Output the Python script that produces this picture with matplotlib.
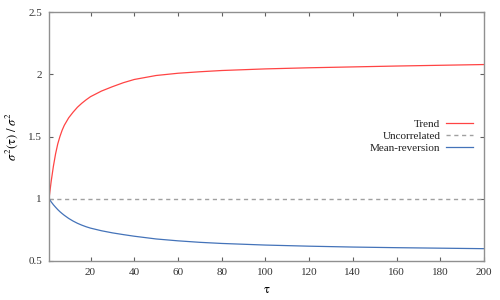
import matplotlib
matplotlib.use("Agg")
import matplotlib.pyplot as plt

plt.rcParams['font.family'] = ['Liberation Serif', 'DejaVu Serif']
plt.rcParams['mathtext.fontset'] = 'stix'

tau = [1, 2, 3, 4, 5, 6, 7, 8, 10, 12, 14, 16, 18, 20, 25, 30, 35, 40, 50,
       60, 70, 80, 100, 120, 140, 160, 180, 200]
trend = [1.00, 1.14, 1.26, 1.36, 1.44, 1.50, 1.55, 1.59, 1.65, 1.695, 1.735,
         1.767, 1.795, 1.82, 1.865, 1.90, 1.932, 1.958, 1.99, 2.008, 2.02,
         2.03, 2.043, 2.052, 2.059, 2.066, 2.072, 2.078]
uncorrelated = [1.0] * len(tau)
mean_reversion = [1.00, 0.975, 0.952, 0.932, 0.913, 0.896, 0.881, 0.867,
                  0.842, 0.821, 0.803, 0.788, 0.775, 0.764, 0.743, 0.726,
                  0.712, 0.699, 0.677, 0.662, 0.65, 0.641, 0.628, 0.619,
                  0.612, 0.607, 0.603, 0.599]

xticks = [20, 40, 60, 80, 100, 120, 140, 160, 180, 200]
xticklabels = ['20', '40', '60', '80', '100', '120', '140', '160', '180', '200']
yticks = [0.5, 1.0, 1.5, 2.0, 2.5]
yticklabels = ['0.5', '1', '1.5', '2', '2.5']

fig = plt.figure(figsize=(5, 3), dpi=100)
ax = fig.add_axes([0.098, 0.13, 0.870, 0.830])

ax.plot(tau, trend, color='#ff4444', lw=0.9, label='Trend')
ax.plot(tau, uncorrelated, color='#a0a0a0', lw=1.0, dashes=(3, 2.6),
        label='Uncorrelated')
ax.plot(tau, mean_reversion, color='#4473b9', lw=0.9, label='Mean-reversion')

ax.set_xlim(1, 200)
ax.set_ylim(0.5, 2.5)
ax.set_xticks(xticks)
ax.set_xticklabels(xticklabels)
ax.set_yticks(yticks)
ax.set_yticklabels(yticklabels)

for s in ax.spines.values():
    s.set_color('#909090')
    s.set_linewidth(1.0)

ax.tick_params(direction='in', length=3, width=0.8, color='#606060',
               top=True, right=True, labelsize=8, labelcolor='#333333', pad=5)

ax.set_xlabel(r'$\mathrm{\tau}$', fontsize=9, labelpad=5)
ax.set_ylabel(r'$\sigma^2(\mathrm{\tau})\ /\ \sigma^2$', fontsize=9, labelpad=6)

leg = ax.legend(loc='center right', bbox_to_anchor=(0.975, 0.502),
                frameon=False, markerfirst=False, fontsize=8,
                handlelength=2.4, handletextpad=0.55, labelspacing=0.2,
                borderpad=0, borderaxespad=0)
for t in leg.get_texts():
    t.set_color('#222222')

fig.savefig('out.png', dpi=100)
